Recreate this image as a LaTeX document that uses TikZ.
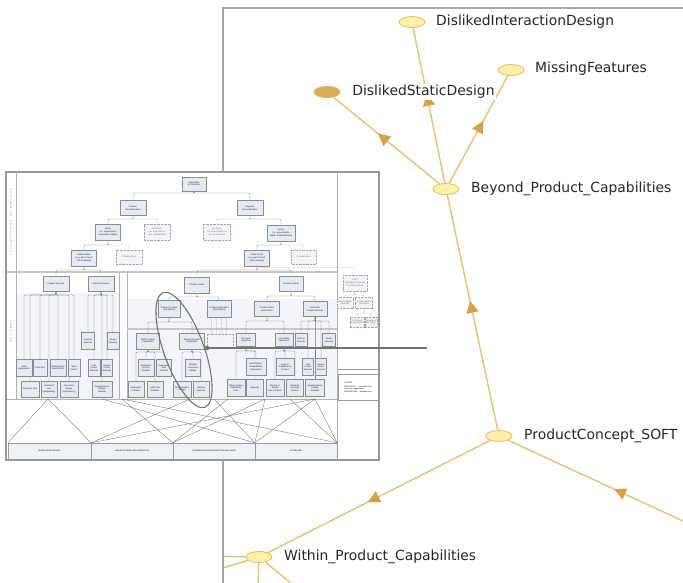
\documentclass[tikz,border=0pt]{standalone}
\usepackage{fontspec}
\usetikzlibrary{arrows.meta,decorations.markings,shapes.geometric,calc}
\newfontfamily\gfam{DejaVu Sans}
\newfontfamily\ifam{Liberation Sans}
\newfontfamily\lsfam[LetterSpace=60]{Liberation Sans}
\newcommand\gfnt{\gfam\fontsize{13.9}{16}\selectfont}
\newcommand\ifnt{\ifam\fontsize{2.2}{2.6}\selectfont}
\newcommand\bfnt{\ifam\fontsize{1.9}{2.3}\selectfont}
\newcommand\lsfnt{\lsfam\fontsize{2.1}{2.5}\selectfont}
\definecolor{edgec}{HTML}{E9C47E}
\definecolor{arrc}{HTML}{D4A24A}
\definecolor{nodef}{HTML}{FFF2A8}
\definecolor{nodeb}{HTML}{E0BC68}
\definecolor{darkn}{HTML}{D7AE5A}
\definecolor{panelc}{HTML}{A8A8A8}
\definecolor{boxc}{HTML}{E6EBF3}
\definecolor{boxd}{HTML}{F2F4F8}
\definecolor{shadec}{HTML}{F3F5F9}
\definecolor{botc}{HTML}{EEF1F5}
\definecolor{ilc}{HTML}{7A7A7A}
\pgfdeclarelayer{bottom}
\pgfdeclarelayer{bg}
\pgfdeclarelayer{top}
\pgfsetlayers{bottom,bg,main,top}
\newcommand\irk[4][il]{\coordinate (irkc) at (0,#4); \draw[#1] (#2.south) -- (#2.south |- irkc) -| (#3.north);}
\begin{document}
\begin{tikzpicture}[x=1pt,y=-1pt,
  gnode/.style={ellipse, draw=nodeb, fill=nodef, line width=0.8pt, minimum width=26pt, minimum height=11pt, inner sep=0pt},
  glab/.style={anchor=west, font=\gfnt, inner sep=0pt, text=black!85},
  ge/.style={draw=edgec, line width=1.5pt},
  gea/.style={ge, postaction={decorate}, decoration={markings, mark=at position #1 with {\arrow{Triangle[length=12pt,width=12pt,color=arrc]}}}},
  gea/.default=0.55,
  ib/.style n args={2}{draw=black!45, fill=boxc, line width=0.35pt, inner sep=0.3pt, align=center, font=\ifnt, text=black!90, minimum width=#1pt, minimum height=#2pt},
  ibd/.style n args={2}{ib={#1}{#2}, dash pattern=on 0.8pt off 0.6pt, draw=black!35, fill=boxd, text=black!55},
  il/.style={draw=ilc, line width=0.35pt, rounded corners=1pt},
  ild/.style={il, dash pattern=on 0.8pt off 0.6pt, draw=black!40},
  xl/.style={draw=black!55, line width=0.35pt},
  bb/.style={draw=black!40, fill=botc, line width=0.4pt, font=\bfnt, minimum height=16pt, inner sep=0pt}
]
\useasboundingbox (0,0) rectangle (683,582);

% ---------------- graph panel ----------------
\begin{pgfonlayer}{bottom}
\draw[panelc, line width=1.5pt] (700,8) -- (223,8) -- (223,600);
\begin{scope}
\clip (224,9) rectangle (690,590);
\node[gnode] (did) at (412,22) {};
\node[gnode] (mf) at (511,70) {};
\node[gnode, fill=darkn, draw=darkn] (dsd) at (327,92) {};
\node[gnode] (bpcg) at (446,189) {};
\node[gnode] (pcs) at (499,436) {};
\node[gnode] (wpcg) at (259,557) {};
\coordinate (rin) at (720,538);
\coordinate (w1) at (150,555);
\coordinate (w2) at (150,590);
\coordinate (w3) at (256,640);
\coordinate (w4) at (330,615);
\draw[gea=0.575] (bpcg) -- (did);
\draw[gea=0.58] (bpcg) -- (dsd);
\draw[gea=0.58] (bpcg) -- (mf);
\draw[gea=0.55] (pcs) -- (bpcg);
\draw[gea=0.55] (pcs) -- (wpcg);
\draw[gea=0.5] (rin) -- (pcs);
\draw[ge] (wpcg) -- (w1);
\draw[ge] (wpcg) -- (w2);
\draw[ge] (wpcg) -- (w3);
\draw[ge] (wpcg) -- (w4);
\node[glab] at (436,22) {DislikedInteractionDesign};
\node[glab] at (535,69) {MissingFeatures};
\node[glab, fill=white, inner sep=1.2pt] at (351,92) {DislikedStaticDesign};
\node[glab] at (471,189) {Beyond\_Product\_Capabilities};
\node[glab] at (524,436) {ProductConcept\_SOFT};
\node[glab] at (284,557) {Within\_Product\_Capabilities};
\end{scope}

% ---------------- inset background ----------------
\draw[fill=white, draw=black!40, line width=1.6pt] (6,172) rectangle (379,460);
\fill[shadec] (16,293) rectangle (119,399);
\fill[shadec] (127,299) rectangle (337,399);
\draw[black!30, line width=0.5pt] (16,173) -- (16,399);
\draw[black!22, line width=2pt] (7,272) -- (337,272);
\draw[black!30, line width=0.5pt] (337,173) -- (337,459);
\draw[black!30, line width=0.5pt] (119,272) -- (119,399) (127,272) -- (127,399);
\draw[black!22, line width=1.5pt] (127,329) -- (337,329);
\draw[black!30, line width=0.5pt] (7,399) -- (337,399);
\node[rotate=90, font=\lsfnt, text=black!60] at (11,222) {CONSUMER APPRAISAL BEHAVIOR};
\node[rotate=90, font=\lsfnt, text=black!60] at (11,332) {OUTCOMES};
\end{pgfonlayer}

% ---------------- inset boxes ----------------
\node[ib={24}{14}] (acq) at (194,184) {Acquisition\\(or Intention)};
\node[ib={26}{15}] (pos) at (133,208) {Positive\\Disconfirmation};
\node[ib={26}{15}] (neg) at (250,208) {Negative\\Disconfirmation};
\node[ib={25}{16}] (actl) at (108,232) {Action\\(i.e. expectations\\exceeded: Delight)};
\node[ibd={26}{16}] (noal) at (157,232) {No Action\\(i.e. expectations\\met: Satisfaction)};
\node[ibd={27}{16}] (noar) at (217,232) {No Action\\(i.e. expectations not\\met: Acceptance)};
\node[ib={28}{16}] (actr) at (281,233) {Action\\(i.e. expectations\\failed: Dissatisfaction)};
\node[ib={25}{16}] (publ) at (84,258) {Public Action\\(e.g. get in touch\\with company)};
\node[ibd={26}{14}] (pril) at (129,257) {Private Action};
\node[ib={25}{16}] (pubr) at (257,258) {Public Action\\(e.g. get in touch\\with company)};
\node[ibd={25}{14}] (prir) at (304,257) {Private Action};

\node[ib={26}{15}] (psuc) at (56,284) {Product Success};
\node[ib={26}{15}] (ssuc) at (101,284) {Services Success};
\node[ib={25}{16}] (pfail) at (197,285) {Product Failure};
\node[ib={24}{15}] (sfail) at (291,284) {Services Failure};
\node[ibd={24}{16}] (claim) at (355,283) {Claim\\(Wrongly Purchased\\Unused) Product};
\node[ibd={16}{11}] (rrej) at (345,303) {Responsibility\\Rejected};
\node[ibd={17}{11}] (racc) at (364,303) {Responsibility\\Accepted};
\node[ibd={13}{10}] (fref) at (357,322) {Full Refund\\(Money Back)};
\node[ibd={12}{10}] (eexc) at (371,322) {Equipment\\Exchange};

\node[ib={22}{17}] (pcon) at (169,309) {Product Concept\\(soft failure)};
\node[ib={24}{17}] (pfab) at (219,309) {Product Fabrication\\(hard failure)};
\node[ib={25}{15}] (psal) at (267,309) {Product Sales\\and Policies};
\node[ib={24}{15}] (cps) at (315,309) {Corporate\\Product Services};

\node[ib={23}{16}] (wpc) at (148,341) {Within Product\\Capabilities};
\node[ib={25}{16}] (bpc) at (192,341) {Beyond Product\\Capabilities};
\node[ibd={26}{14}] (fabx) at (220,341) {......};
\node[ib={19}{13}] (pres) at (246,340) {Pre-Sales\\Questions};
\node[ib={18}{13}] (posq) at (284,340) {Post-Sales\\Questions};
\node[ib={12}{13}] (inet2) at (301,340) {Internet\\Services};
\node[ib={13}{13}] (deal2) at (329,340) {Dealer\\Services};
\node[ib={13}{17}] (inet1) at (88,341) {Internet\\Services};
\node[ib={12}{17}] (deal1) at (113,341) {Dealer\\Services};

\node[ib={16}{17}] (ii) at (24,368) {Initial\\Impressions};
\node[ib={14}{17}] (iu) at (40,368) {Initial Use};
\node[ib={16}{17}] (sd) at (58,368) {Static Design\\(aesthetics)};
\node[ib={12}{17}] (wow) at (74,368) {“Wow\\Factor”};
\node[ib={12}{17}] (call1) at (94,368) {Call\\Center\\Services};
\node[ib={11}{17}] (serv1) at (107,368) {Service\\Center\\Services};
\node[ib={16}{17}] (motiv) at (146,368) {Motivation\\for Use\\Problem};
\node[ib={15}{17}] (gap) at (164,368) {Awareness\\Gap\\Problem};
\node[ib={15}{17}] (dind) at (193,368) {Disliked\\Interaction\\Design};
\node[ib={20}{17}] (spec) at (256,367) {Specification,\\Compatibility,\\Comparison};
\node[ib={18}{17}] (laws) at (285,367) {Laws or\\Standards re\\Product};
\node[ib={11}{17}] (call2) at (308,367) {Call\\Center\\Services};
\node[ib={11}{17}] (serv2) at (321,367) {Service\\Center\\Services};

\node[ib={18}{16}] (inv) at (30,389) {Inviting to Use};
\node[ib={16}{16}] (sus) at (49,389) {Sustained\\Use\\(adaptability)};
\node[ib={18}{16}] (intd) at (69,389) {Interaction\\Design\\(ergonomics)};
\node[ib={20}{16}] (supp1) at (102,389) {Supplementary\\printed\\material};
\node[ib={16}{16}] (awp) at (136,389) {Awareness\\Problem};
\node[ib={16}{16}] (iup) at (155,389) {Initial Use\\Problem};
\node[ib={18}{16}] (dsd2) at (182,389) {Disliked Static\\Design};
\node[ib={16}{16}] (mf2) at (201,389) {Missing\\Features};
\node[ib={18}{17}] (wtb) at (236,388) {Where to Buy,\\Availability,\\Price};
\node[ib={17}{17}] (warr) at (255,388) {Warranty};
\node[ib={18}{17}] (mwb) at (275,388) {Missing or\\Wrong\\Box Contents};
\node[ib={17}{17}] (wlp) at (295,388) {Warranty,\\Leniency,\\Policies};
\node[ib={19}{17}] (supp2) at (315,388) {Supplementary\\printed\\material};

\node[draw=black!40, fill=white, line width=0.4pt, anchor=north west, font=\bfnt, align=left, inner sep=0.6pt, minimum width=40pt, minimum height=26pt] (leg) at (338,374) {LEGEND\\[2pt]BOLD PRINT ... retrievable from\\call center logged data\\DASHED LINE ... beyond scope};
\draw[black!40, line width=0.3pt] ([yshift=5pt]leg.north west) -- ([yshift=5pt]leg.north east);

\node[bb, minimum width=83pt] (dd) at (49.5,451) {DESIGN-DEVELOPMENT};
\node[bb, minimum width=82pt] (mi) at (132,451) {MANUFACTURING-IMPLEMENTATION};
\node[bb, minimum width=82pt] (cm) at (214,451) {COMMERCIALIZATION-MARKETING AND SALES};
\node[bb, minimum width=82pt] (ac) at (296,451) {AFTERCARE};

% ---------------- inset connectors ----------------
\begin{pgfonlayer}{bg}
\irk{acq}{pos}{193}
\irk{acq}{neg}{193}
\irk{pos}{actl}{219}
\irk[ild]{pos}{noal}{219}
\irk{neg}{actr}{219}
\irk[ild]{neg}{noar}{219}
\irk{actl}{publ}{245}
\irk[ild]{actl}{pril}{245}
\irk{actr}{pubr}{245}
\irk[ild]{actr}{prir}{245}
\irk{publ}{psuc}{270}
\irk{publ}{ssuc}{270}
\irk{pubr}{pfail}{270}
\irk{pubr}{sfail}{270}
\irk[ild]{pubr}{claim}{267.5}
\irk[ild]{claim}{rrej}{295}
\irk[ild]{claim}{racc}{295}
\irk[ild]{racc}{fref}{314}
\irk[ild]{racc}{eexc}{314}
\foreach \t in {ii,iu,sd,wow,inv,sus,intd} {\irk{psuc}{\t}{295}}
\foreach \t in {inet1,deal1,call1,serv1,supp1} {\irk{ssuc}{\t}{295}}
\irk{pfail}{pcon}{297}
\irk{pfail}{pfab}{297}
\irk{sfail}{psal}{296}
\irk{sfail}{cps}{296}
\irk{pcon}{wpc}{322}
\irk{pcon}{bpc}{322}
\foreach \dx in {-8,-3,2,7} {\draw[ild] ([xshift=\dx pt]pfab.south) -- ([xshift=\dx pt]fabx.north);}
\irk{psal}{pres}{321}
\irk{psal}{posq}{321}
\foreach \t in {inet2,deal2,call2,serv2,supp2} {\irk{cps}{\t}{321}}
\foreach \t in {motiv,gap,awp,iup} {\irk{wpc}{\t}{352}}
\foreach \t in {dind,dsd2,mf2} {\irk{bpc}{\t}{352}}
\foreach \t in {spec,wtb,warr} {\irk{pres}{\t}{351}}
\foreach \t in {laws,mwb,wlp} {\irk{posq}{\t}{351}}
% crossing lines to life-cycle phases
\coordinate (ap1) at (48,399);
\coordinate (ap2) at (102,399);
\coordinate (ap3) at (122,399);
\coordinate (ap5) at (190,399);
\coordinate (ap6) at (228,399);
\coordinate (ap9) at (214,399);
\coordinate (ap7) at (265,399);
\coordinate (ap8) at (315,399);
\coordinate (ap10) at (290,399);
\draw[xl] (dd.north west) -- (ap1) -- (dd.north east);
\draw[xl] (dd.north east) -- (ap5);
\draw[xl] (dd.north east) -- (ap8);
\draw[xl] (ap2) -- (ac.north west);
\draw[xl] (ap3) -- (ac.north east);
\draw[xl] (ap3) -- (cm.north west);
\draw[xl] (ap6) -- (cm.north west);
\draw[xl] (ap7) -- (cm.north west);
\draw[xl] (ap7) -- (ac.north west);
\draw[xl] (ap9) -- (ac.north west);
\draw[xl] (ap8) -- (ac.north west);
\draw[xl] (ap8) -- (ac.north east);
\draw[xl] (ap10) -- (ac.north east);
\end{pgfonlayer}

% ---------------- highlight ellipse and pointer line ----------------
\begin{pgfonlayer}{top}
\draw[black!55, line width=1.1pt, rotate around={-70:(184,350)}] (184,350) ellipse (61 and 20);
\coordinate (ellr) at (207,348);
\coordinate (lend) at (427,348);
\draw[black!55, line width=2pt] (ellr) -- (lend);
\fill[black!55] (ellr) circle (2.3);
\end{pgfonlayer}
\end{tikzpicture}
\end{document}
